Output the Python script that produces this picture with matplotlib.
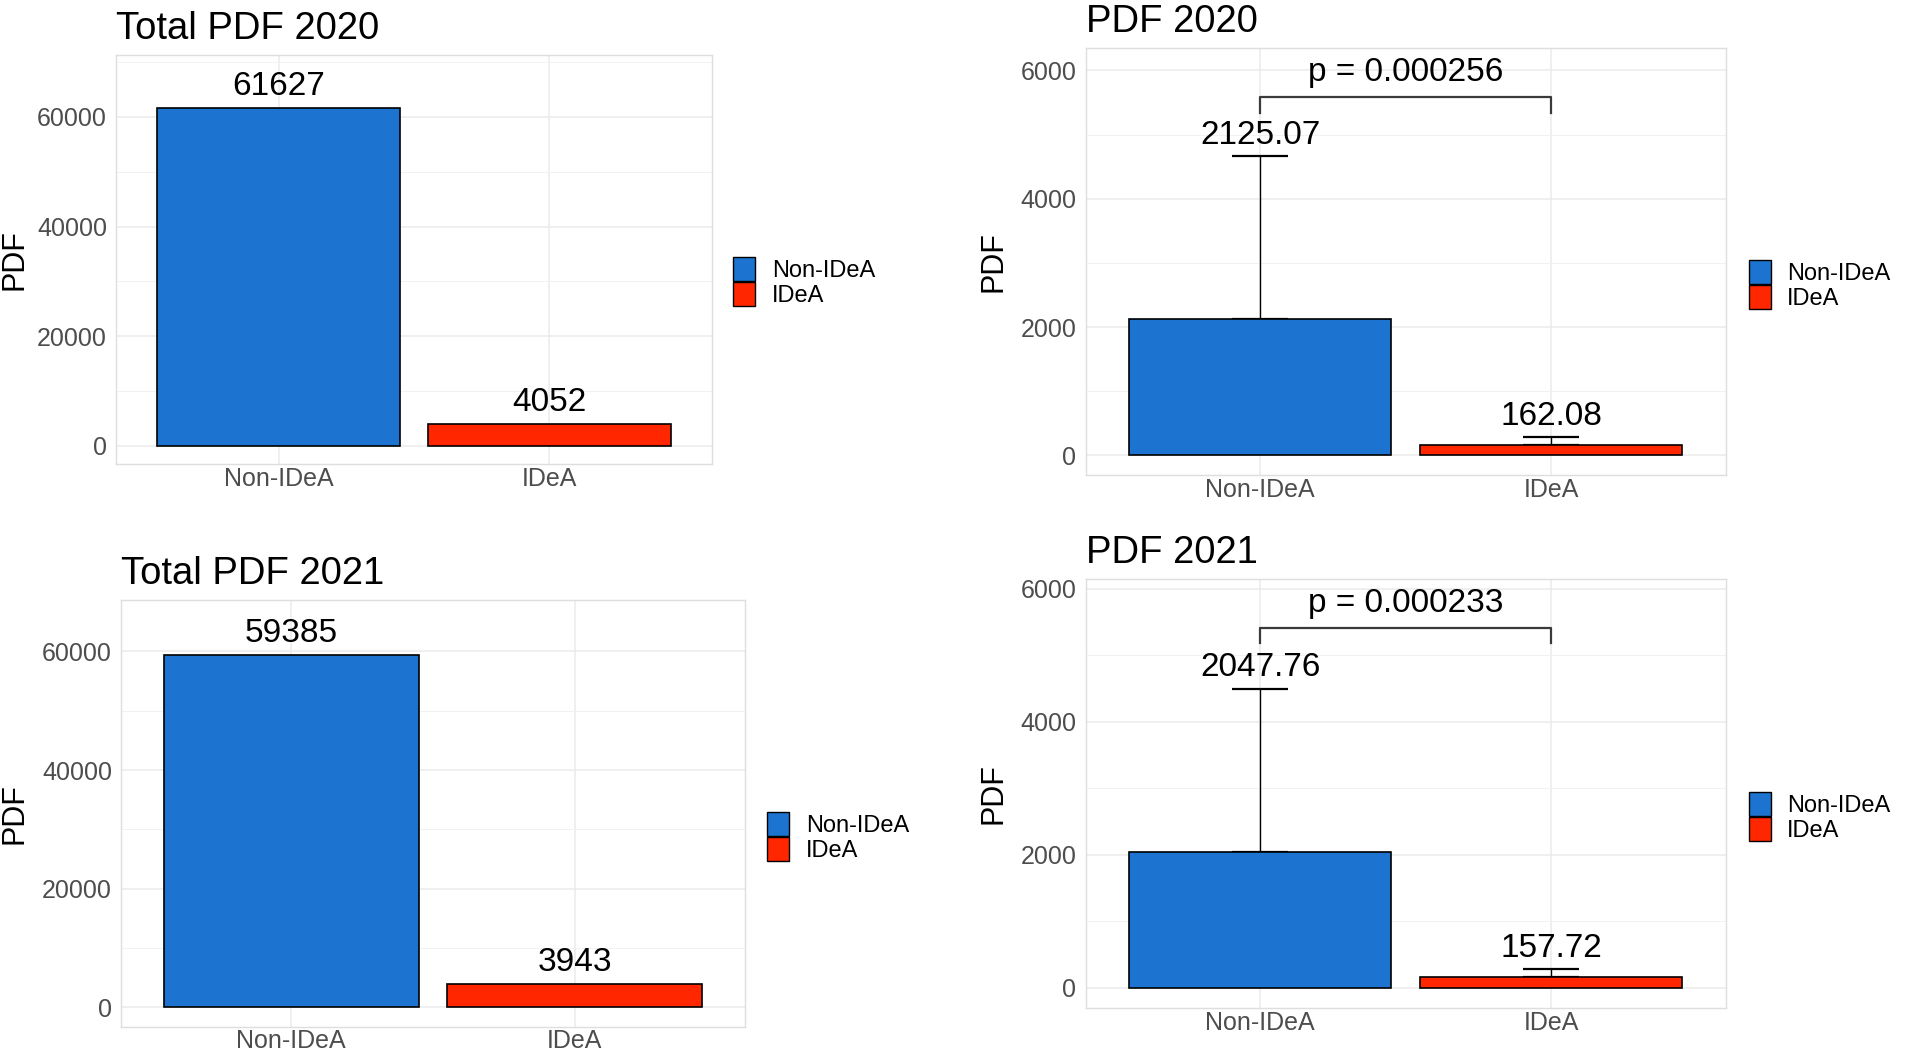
import matplotlib
matplotlib.use("Agg")
import matplotlib.pyplot as plt
from matplotlib.patches import Patch
from matplotlib.ticker import MultipleLocator

plt.rcParams['font.family'] = ['Liberation Sans', 'DejaVu Sans']

# --- data -------------------------------------------------------------
categories = ["Non-IDeA", "IDeA"]
colors = ["#1C74D0", "#FF2600"]

total_2020 = [61627, 4052]
total_2021 = [59385, 3943]

mean_2020 = [2125.07, 162.08]
mean_2021 = [2047.76, 157.72]
sd_2020 = [2533, 123]
sd_2021 = [2452, 122]

p_2020 = "p = 0.000256"
p_2021 = "p = 0.000233"
bracket_2020 = (5581, 5342)   # top, tip
bracket_2021 = (5406, 5188)

W, H = 1907, 1056
fig = plt.figure(figsize=(W / 100, H / 100), dpi=100)


def axes_px(l, t, r, b):
    return fig.add_axes([l / W, 1 - b / H, (r - l) / W, (b - t) / H])


def style(ax, title, ylim, major, minor, ylab_x):
    ax.set_xlim(0.4, 2.6)
    ax.set_ylim(*ylim)
    ax.set_xticks([1, 2])
    ax.set_xticklabels(categories)
    ax.yaxis.set_major_locator(MultipleLocator(major))
    ax.yaxis.set_minor_locator(MultipleLocator(minor))
    ax.grid(which='major', color='#EBEBEB', lw=1.1, zorder=0)
    ax.grid(which='minor', axis='y', color='#F2F2F2', lw=0.7, zorder=0)
    ax.set_axisbelow(True)
    for s in ax.spines.values():
        s.set_color('#DEDEDE')
        s.set_linewidth(1.0)
    ax.tick_params(which='both', length=0, labelsize=18, colors='#4D4D4D')
    ax.tick_params(axis='y', pad=6.5)
    ax.tick_params(axis='x', pad=2)
    ax.set_title(title, loc='left', fontsize=27.5, pad=11.5)
    ax.set_ylabel("PDF", fontsize=22)
    ax.yaxis.label.set_verticalalignment('center')
    ax.yaxis.set_label_coords(ylab_x, 0.5)
    ax.legend(handles=[Patch(facecolor=c, edgecolor='black', lw=1.0, label=n)
                       for c, n in zip(colors, categories)],
              loc='center left', bbox_to_anchor=(1.036, 0.445), frameon=False,
              fontsize=17, handlelength=0.93, handleheight=1.19,
              handletextpad=0.7, labelspacing=0, borderpad=0,
              borderaxespad=0)


def total_panel(ax, vals, title, ylim, ylab_x):
    x = [1, 2]
    ax.bar(x, vals, width=0.9, color=colors, edgecolor='black', lw=1.2, zorder=3)
    for xi, v in zip(x, vals):
        ax.annotate(f"{v}", (xi, v), xytext=(0, 9.5), textcoords='offset points',
                    ha='center', va='baseline', fontsize=24)
    style(ax, title, ylim, 20000, 10000, ylab_x)


def mean_panel(ax, means, sds, ptxt, bracket, title, ylim, ylab_x):
    x = [1, 2]
    ax.errorbar(x, means, yerr=[[0, 0], sds], fmt='none', ecolor='black',
                elinewidth=1.0, capsize=20.5, capthick=1.6, zorder=2)
    ax.bar(x, means, width=0.9, color=colors, edgecolor='black', lw=1.2, zorder=3)
    for xi, m, s in zip(x, means, sds):
        ax.annotate(f"{m:.2f}", (xi, m + s), xytext=(0, 9), textcoords='offset points',
                    ha='center', va='baseline', fontsize=24)
    top, tip = bracket
    ax.plot([1, 1, 2, 2], [tip, top, top, tip], color='#3A3A3A', lw=1.6, zorder=4)
    ax.annotate(ptxt, (1.5, top), xytext=(0, 11.5), textcoords='offset points',
                ha='center', va='baseline', fontsize=24)
    style(ax, title, ylim, 2000, 1000, ylab_x)


ax1 = axes_px(116, 55, 712, 464)
total_panel(ax1, total_2020, "Total PDF 2020", (-3283, 71300), -0.17)

ax2 = axes_px(1085.5, 48.4, 1725.7, 475)
mean_panel(ax2, mean_2020, sd_2020, p_2020, bracket_2020, "PDF 2020",
           (-307, 6343), -0.143)

ax3 = axes_px(121, 599.7, 744.8, 1026.7)
total_panel(ax3, total_2021, "Total PDF 2021", (-3253, 68714), -0.17)

ax4 = axes_px(1085.5, 579.4, 1725.7, 1007.8)
mean_panel(ax4, mean_2021, sd_2021, p_2021, bracket_2021, "PDF 2021",
           (-302, 6143), -0.143)

fig.savefig("out.png", dpi=100, facecolor='white')
